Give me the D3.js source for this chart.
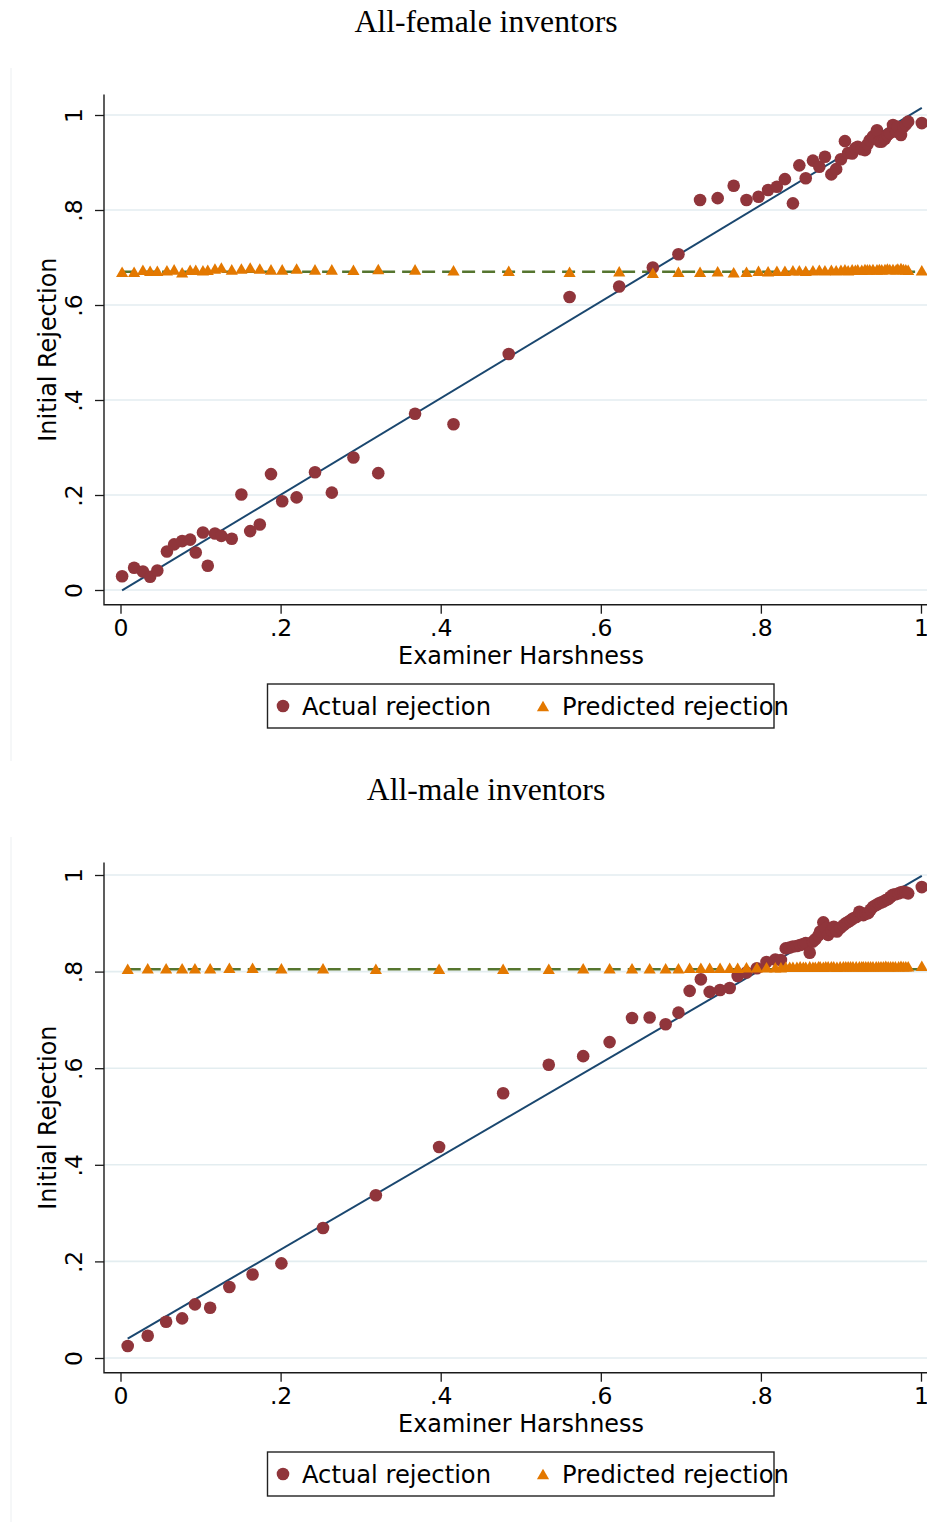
<!DOCTYPE html>
<html><head><meta charset="utf-8">
<script src="https://cdn.jsdelivr.net/npm/d3@7"></script>
<style>body{margin:0;background:#fff}svg{display:block}</style>
</head><body>
<svg id="chart" width="927" height="1522"></svg>
<script>
// ---------------- data ----------------
const tickValues = [0, 0.2, 0.4, 0.6, 0.8, 1];
const tickLabels = ["0", ".2", ".4", ".6", ".8", "1"];
const panelTitles = ["All-female inventors", "All-male inventors"];
const xTitle = "Examiner Harshness";
const yTitle = "Initial Rejection";
const legendLabels = ["Actual rejection", "Predicted rejection"];

const femaleHarshness = [0.002,0.017,0.028,0.037,0.046,0.058,0.067,0.077,0.087,0.094,
  0.103,0.109,0.118,0.126,0.139,0.151,0.162,0.174,0.188,0.202,
  0.220,0.243,0.264,0.291,0.322,0.368,0.416,0.485,0.561,0.623,
  0.665,0.697,0.724,0.746,0.766,0.782,0.797,0.809,0.820,
  0.830,0.840,0.848,0.856,0.865,0.873,0.880,0.888,0.894,0.900,
  0.905,0.909,0.914,0.918,0.921,0.926,0.930,0.933,0.936,0.940,
  0.945,0.948,0.951,0.955,0.958,0.961,0.965,0.969,0.971,0.975,
  0.978,0.981,0.984,1.001];
const femaleActual = [0.029,0.047,0.039,0.028,0.041,0.081,0.096,0.103,0.106,0.079,
  0.121,0.051,0.119,0.114,0.108,0.201,0.124,0.138,0.244,0.187,
  0.195,0.248,0.205,0.279,0.246,0.371,0.349,0.497,0.617,0.639,
  0.679,0.707,0.821,0.825,0.851,0.821,0.828,0.842,0.849,
  0.865,0.814,0.894,0.867,0.904,0.891,0.912,0.875,0.886,0.907,
  0.945,0.920,0.919,0.930,0.933,0.928,0.926,0.938,0.947,0.955,
  0.968,0.944,0.944,0.950,0.958,0.962,0.979,0.965,0.975,0.958,
  0.975,0.980,0.986,0.983];
const femalePredicted = [0.670,0.670,0.674,0.672,0.672,0.673,0.675,0.669,0.674,0.674,
  0.673,0.674,0.677,0.679,0.675,0.677,0.679,0.677,0.675,0.675,
  0.677,0.675,0.675,0.674,0.676,0.675,0.673,0.672,0.670,0.671,
  0.668,0.670,0.670,0.671,0.669,0.670,0.672,0.671,0.672,
  0.672,0.673,0.673,0.672,0.673,0.674,0.673,0.674,0.673,0.674,
  0.675,0.673,0.675,0.674,0.675,0.674,0.676,0.675,0.675,0.676,
  0.675,0.676,0.675,0.676,0.677,0.676,0.676,0.675,0.677,0.678,
  0.676,0.675,0.674,0.673];
const femaleFitActualX = [0.002, 1.001];
const femaleFitActualY = [-0.001, 1.015];
const femaleFitPredictedX = [0.002, 1.001];
const femaleFitPredictedY = [0.670, 0.670];

const maleHarshness = [0.009,0.034,0.057,0.077,0.093,0.112,0.136,0.165,0.201,0.253,
  0.319,0.398,0.478,0.535,0.578,0.611,0.639,0.661,0.681,0.697,
  0.711,0.725,0.736,0.749,0.761,0.771,0.782,0.795,0.807,0.818,0.825,
  0.831,0.836,0.840,0.845,0.849,0.853,0.856,0.861,0.865,0.868,
  0.872,0.874,0.878,0.881,0.884,0.888,0.891,0.895,0.899,0.903,
  0.906,0.909,0.912,0.915,0.919,0.923,0.926,0.928,0.931,0.934,
  0.937,0.940,0.944,0.947,0.950,0.953,0.956,0.959,0.962,0.965,
  0.968,0.972,0.975,0.978,0.981,0.984,1.001];
const maleActual = [0.025,0.046,0.075,0.082,0.111,0.104,0.147,0.173,0.196,0.269,
  0.337,0.437,0.548,0.607,0.625,0.654,0.704,0.705,0.691,0.715,
  0.760,0.784,0.758,0.762,0.766,0.791,0.798,0.807,0.820,0.825,0.824,
  0.848,0.850,0.852,0.853,0.855,0.857,0.859,0.839,0.862,0.867,
  0.875,0.883,0.902,0.890,0.876,0.885,0.893,0.883,0.890,0.896,
  0.900,0.903,0.906,0.910,0.913,0.924,0.920,0.917,0.920,0.921,
  0.928,0.934,0.938,0.941,0.943,0.945,0.948,0.950,0.955,0.959,
  0.960,0.962,0.964,0.965,0.964,0.962,0.975];
const malePredicted = [0.806,0.807,0.807,0.807,0.807,0.807,0.808,0.808,0.807,0.807,
  0.806,0.806,0.806,0.806,0.807,0.807,0.807,0.807,0.807,0.807,
  0.808,0.808,0.808,0.808,0.808,0.808,0.809,0.809,0.809,0.809,0.809,
  0.810,0.810,0.810,0.810,0.811,0.810,0.810,0.811,0.810,0.810,
  0.811,0.811,0.810,0.811,0.811,0.811,0.811,0.810,0.811,0.811,
  0.811,0.811,0.811,0.811,0.811,0.811,0.811,0.811,0.811,0.811,
  0.811,0.811,0.811,0.811,0.811,0.811,0.812,0.811,0.811,0.811,
  0.811,0.811,0.812,0.811,0.811,0.811,0.812];
const maleFitActualX = [0.009, 1.001];
const maleFitActualY = [0.040, 0.998];
const maleFitPredictedX = [0.009, 1.001];
const maleFitPredictedY = [0.805, 0.805];

// ---------------- style ----------------
const C_ACTUAL = "#90353b", C_PRED = "#e37800", C_FIT = "#1a476f", C_FITP = "#55752f";
const C_GRID = "#e3edf0", C_AXIS = "#1a1a1a";
const SANS = "'DejaVu Sans', sans-serif", SERIF = "'Liberation Serif','Times New Roman',serif";

// triangle symbol centred on its bounding box
const triangleMid = {
  draw(ctx, size) {
    const s = Math.sqrt(size * 4 / Math.sqrt(3));
    const h = s * Math.sqrt(3) / 2;
    ctx.moveTo(0, -h / 2); ctx.lineTo(s / 2, h / 2); ctx.lineTo(-s / 2, h / 2); ctx.closePath();
  }
};
const triPath = d3.symbol().type(triangleMid).size(64)();

const svg = d3.select("#chart");

const panels = [
  { title: panelTitles[0], dy: 0, yRange: [590, 115],
    hx: femaleHarshness, act: femaleActual, pred: femalePredicted,
    fa: [femaleFitActualX, femaleFitActualY], fp: [femaleFitPredictedX, femaleFitPredictedY],
    borderTop: 68, borderBottom: 761 },
  { title: panelTitles[1], dy: 768, yRange: [1358, 875],
    hx: maleHarshness, act: maleActual, pred: malePredicted,
    fa: [maleFitActualX, maleFitActualY], fp: [maleFitPredictedX, maleFitPredictedY],
    borderTop: 837, borderBottom: 1522 }
];

panels.forEach(p => {
  const g = svg.append("g");
  const x = d3.scaleLinear().domain([0, 1]).range([120.5, 921]);
  const y = d3.scaleLinear().domain([0, 1]).range(p.yRange);
  const axisY = 604.7 + p.dy, axisTop = 94.5 + p.dy, axisX = 104;

  // faint border of the sub-figure
  g.append("line").attr("x1", 11).attr("x2", 11).attr("y1", p.borderTop).attr("y2", p.borderBottom)
    .attr("stroke", "#eceff1").attr("stroke-width", 1);

  // title
  g.append("text").attr("x", 486).attr("y", 32 + p.dy).attr("text-anchor", "middle")
    .attr("font-family", SERIF).attr("font-size", 31.7).attr("fill", "#000").text(p.title);

  // gridlines
  g.append("g").selectAll("line").data(tickValues).join("line")
    .attr("x1", axisX).attr("x2", 927).attr("y1", d => y(d)).attr("y2", d => y(d))
    .attr("stroke", C_GRID).attr("stroke-width", 1.6);

  // y axis
  const ya = g.append("g").attr("transform", `translate(${axisX},0)`)
    .call(d3.axisLeft(y).tickValues(tickValues).tickFormat((d, i) => tickLabels[i]).tickSize(9));
  ya.select(".domain").remove();
  ya.selectAll(".tick line").attr("stroke", C_AXIS).attr("stroke-width", 1.3);
  ya.selectAll(".tick text").attr("x", null).attr("dy", null).attr("text-anchor", "middle")
    .attr("transform", "translate(-22,0) rotate(-90)")
    .attr("font-family", SANS).attr("font-size", 23.5).attr("fill", "#000");

  // x axis
  const xa = g.append("g").attr("transform", `translate(0,${axisY})`)
    .call(d3.axisBottom(x).tickValues(tickValues).tickFormat((d, i) => tickLabels[i]).tickSize(9).tickPadding(6));
  xa.select(".domain").remove();
  xa.selectAll(".tick line").attr("stroke", C_AXIS).attr("stroke-width", 1.3);
  xa.selectAll(".tick text").attr("font-family", SANS).attr("font-size", 23.5).attr("fill", "#000");

  // axis lines
  g.append("path").attr("d", `M${axisX},${axisTop}V${axisY}H927`)
    .attr("fill", "none").attr("stroke", C_AXIS).attr("stroke-width", 1.4);

  // axis titles
  g.append("text").attr("x", 521).attr("y", 664 + p.dy).attr("text-anchor", "middle")
    .attr("font-family", SANS).attr("font-size", 23.9).attr("fill", "#000").text(xTitle);
  g.append("text").attr("transform", `translate(56,${(axisTop + axisY) / 2}) rotate(-90)`)
    .attr("text-anchor", "middle").attr("font-family", SANS).attr("font-size", 23.9)
    .attr("fill", "#000").text(yTitle);

  // fit lines
  const line = d3.line().x(d => x(d[0])).y(d => y(d[1]));
  g.append("path").datum(d3.zip(p.fp[0], p.fp[1])).attr("d", line)
    .attr("fill", "none").attr("stroke", C_FITP).attr("stroke-width", 2.6).attr("stroke-dasharray", "13,7");
  g.append("path").datum(d3.zip(p.fa[0], p.fa[1])).attr("d", line)
    .attr("fill", "none").attr("stroke", C_FIT).attr("stroke-width", 2);

  // markers
  g.append("g").selectAll("circle").data(d3.zip(p.hx, p.act)).join("circle")
    .attr("cx", d => x(d[0])).attr("cy", d => y(d[1])).attr("r", 6.3).attr("fill", C_ACTUAL);
  g.append("g").selectAll("path").data(d3.zip(p.hx, p.pred)).join("path")
    .attr("transform", d => `translate(${x(d[0])},${y(d[1])})`).attr("d", triPath).attr("fill", C_PRED);

  // legend
  const lg = g.append("g").attr("transform", `translate(0,${p.dy})`);
  lg.append("rect").attr("x", 267.5).attr("y", 684).attr("width", 506.5).attr("height", 44)
    .attr("fill", "#fff").attr("stroke", "#222").attr("stroke-width", 1.4);
  lg.append("circle").attr("cx", 283).attr("cy", 706).attr("r", 6.3).attr("fill", C_ACTUAL);
  lg.append("text").attr("x", 302).attr("y", 715).attr("font-family", SANS).attr("font-size", 24.2)
    .attr("fill", "#000").text(legendLabels[0]);
  lg.append("path").attr("transform", "translate(543,706)").attr("d", triPath).attr("fill", C_PRED);
  lg.append("text").attr("x", 562).attr("y", 715).attr("font-family", SANS).attr("font-size", 24.2)
    .attr("fill", "#000").text(legendLabels[1]);
});
</script>
</body></html>
